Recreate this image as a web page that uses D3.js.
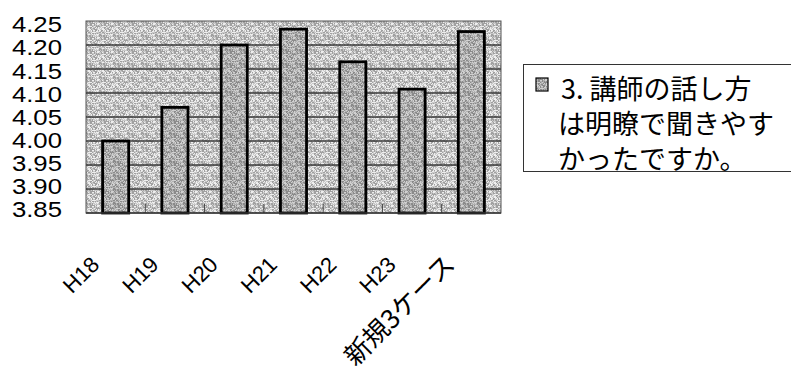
<!DOCTYPE html>
<html>
<head>
<meta charset="utf-8">
<script src="https://cdn.jsdelivr.net/npm/d3@7/dist/d3.min.js"></script>
<style>
  html, body { margin: 0; padding: 0; background: #fff; }
  svg { display: block; }
</style>
</head>
<body>
<svg id="chart" width="791" height="374"></svg>
<script>
// Survey results: average score per year
const categories = ["H18", "H19", "H20", "H21", "H22", "H23", "新規3ケース"];
const scores = [4.00, 4.07, 4.20, 4.233, 4.165, 4.108, 4.228];
const yTicks = [3.85, 3.90, 3.95, 4.00, 4.05, 4.10, 4.15, 4.20, 4.25];
const legendLines = ["3. 講師の話し方", "は明瞭で聞きやす", "かったですか。"];

const svg = d3.select("#chart");
const plot = { left: 86, right: 501, top: 21, bottom: 213 };

// Speckled fills for the plot area and bars (fixed hash, tiles seamlessly)
const defs = svg.append("defs");
function speckle(id, base, dark, light, size) {
  const p = defs.append("pattern").attr("id", id)
    .attr("width", size).attr("height", size).attr("patternUnits", "userSpaceOnUse");
  p.append("rect").attr("width", size).attr("height", size).attr("fill", base);
  for (let yy = 0; yy < size; yy++) {
    for (let xx = 0; xx < size; xx++) {
      const h = ((xx * 73856093) ^ (yy * 19349663) ^ 0x5bd1e995) >>> 0;
      const r = (h % 97) / 97;
      if (r < 0.33) p.append("rect").attr("x", xx).attr("y", yy).attr("width", 1).attr("height", 1).attr("fill", dark);
      else if (r > 0.72) p.append("rect").attr("x", xx).attr("y", yy).attr("width", 1).attr("height", 1).attr("fill", light);
    }
  }
}
speckle("bgFill", "#c8c8c8", "#a0a0a0", "#eeeeee", 14);
speckle("barFill", "#b0b0b0", "#8a8a8a", "#d0d0d0", 14);

const x = d3.scaleBand().domain(categories).range([plot.left, plot.right]).paddingInner(0.56).paddingOuter(0.28);
const xb = d3.scaleBand().domain(categories).range([plot.left, plot.right]);
const y = d3.scaleLinear().domain([3.85, 4.25]).range([plot.bottom, plot.top]);

// Plot background
svg.append("rect")
  .attr("x", plot.left).attr("y", plot.top)
  .attr("width", plot.right - plot.left).attr("height", plot.bottom - plot.top)
  .attr("fill", "url(#bgFill)").attr("stroke", "#555").attr("stroke-width", 1);

// Horizontal gridlines
svg.append("g").selectAll("line")
  .data(yTicks.slice(1, -1)).join("line")
  .attr("x1", plot.left).attr("x2", plot.right)
  .attr("y1", d => y(d)).attr("y2", d => y(d))
  .attr("stroke", "#3a3a3a").attr("stroke-width", 1.4);

// Category tick marks along the base
svg.append("g").selectAll("line")
  .data(categories.slice(1)).join("line")
  .attr("x1", d => xb(d)).attr("x2", d => xb(d))
  .attr("y1", plot.bottom).attr("y2", plot.bottom - 9)
  .attr("stroke", "#444").attr("stroke-width", 1);

// Bars
svg.append("g").selectAll("rect")
  .data(categories).join("rect")
  .attr("x", d => x(d))
  .attr("y", (d, i) => y(scores[i]))
  .attr("width", x.bandwidth())
  .attr("height", (d, i) => plot.bottom - y(scores[i]))
  .attr("fill", "url(#barFill)")
  .attr("stroke", "#000").attr("stroke-width", 2.8);

// Base line
svg.append("line")
  .attr("x1", plot.left).attr("x2", plot.right)
  .attr("y1", plot.bottom).attr("y2", plot.bottom)
  .attr("stroke", "#333").attr("stroke-width", 1.5);

// Y axis labels (set slightly tighter than the gridlines)
const yLabel = y.copy().range([208.5, 23.5]);
const yAxis = d3.axisLeft(yLabel).tickValues(yTicks).tickFormat(d3.format(".2f")).tickSize(0).tickPadding(0);
const gy = svg.append("g").attr("transform", "translate(62,0)").call(yAxis);
gy.select(".domain").remove();
gy.selectAll(".tick text")
  .attr("font-family", "'Liberation Sans', Arial, sans-serif")
  .attr("font-size", 23).attr("fill", "#000")
  .attr("x", 0).attr("dy", "0.36em")
  .attr("transform", "scale(1.12,1)");

// X axis labels, rotated
svg.append("g").selectAll("text")
  .data(categories).join("text")
  .attr("transform", d => `translate(${xb(d) + xb.bandwidth() / 2 - 15},266) rotate(-45)`)
  .attr("text-anchor", "end")
  .attr("font-family", d => /^H\d+$/.test(d) ? "'Liberation Sans', sans-serif" : "'Noto Sans CJK JP', sans-serif")
  .attr("font-size", d => /^H\d+$/.test(d) ? 22 : 26)
  .attr("fill", "#000")
  .text(d => d);

// Legend: swatch plus a three-line wrapped label
const lg = svg.append("g");
lg.append("rect").attr("x", 523.5).attr("y", 64.5).attr("width", 280).attr("height", 107)
  .attr("fill", "#fff").attr("stroke", "#333").attr("stroke-width", 1);
lg.append("rect").attr("x", 536).attr("y", 78).attr("width", 12).attr("height", 13)
  .attr("fill", "url(#barFill)").attr("stroke", "#000").attr("stroke-width", 1.2);
lg.append("text")
  .attr("font-family", "'Noto Sans CJK JP', sans-serif")
  .attr("font-size", 27).attr("fill", "#000")
  .selectAll("tspan").data(legendLines).join("tspan")
  .attr("x", (d, i) => i === 0 ? 561 : 558)
  .attr("y", (d, i) => 98.5 + i * 35)
  .text(d => d);
</script>
</body>
</html>
